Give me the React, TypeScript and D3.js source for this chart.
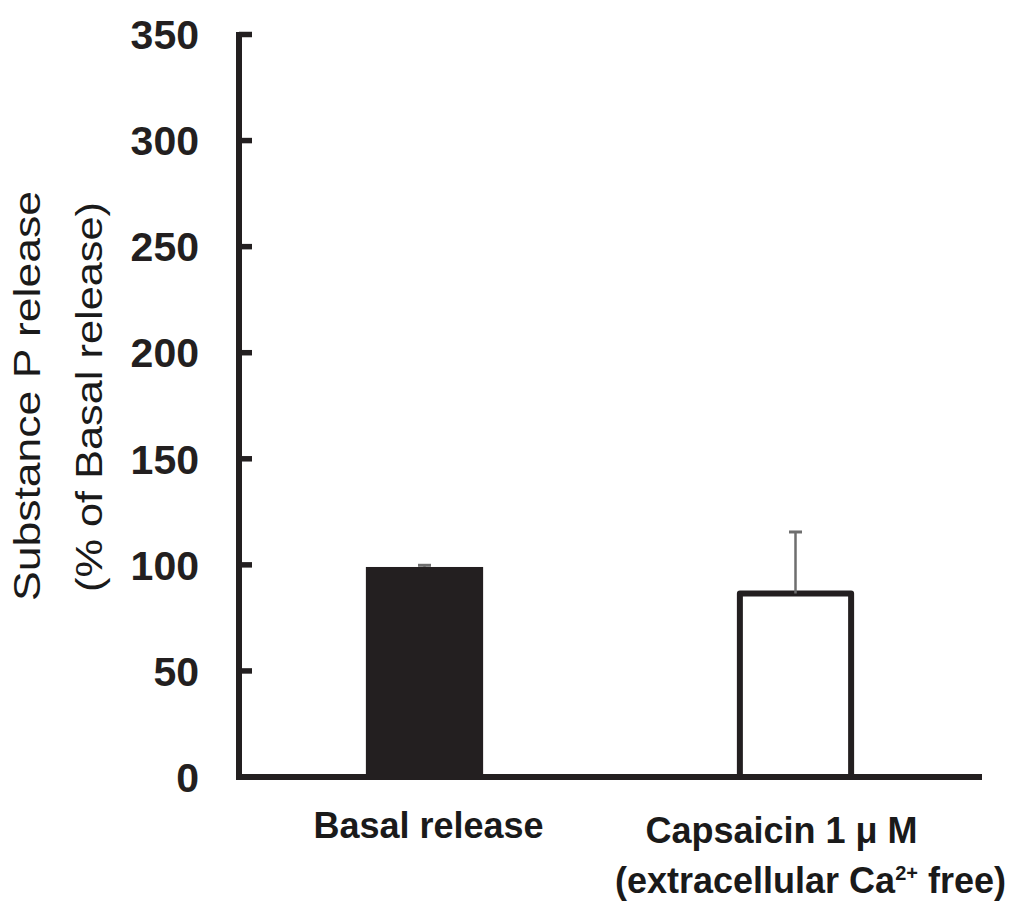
import React from "react";
import * as d3 from "d3";

// Substance P release, % of basal release (mean ± SEM)
const categories = ["Basal release", "Capsaicin"];
const means = [99, 86.5];
const sems = [0.8, 29];
const yTicks = [0, 50, 100, 150, 200, 250, 300, 350];

const W = 1011;
const H = 905;
const INK = "#231f20";
const ERR = "#6e6e6e";

export default function App() {
  const x = d3.scaleBand<string>().domain(categories).range([239, 981]).padding(0);
  const y = d3.scaleLinear().domain([0, 350]).range([777, 34.5]);
  const barW = x.bandwidth() * 0.316;
  const cx = (c: string) => (x(c) ?? 0) + x.bandwidth() / 2;

  return (
    <svg
      width={W}
      height={H}
      style={{ position: "absolute", left: 0, top: 0, background: "#fff" }}
    >
      {/* bars */}
      {categories.map((c, i) => {
        const filled = i === 0;
        const inset = filled ? 0 : 3;
        return (
          <rect
            key={c}
            x={cx(c) - barW / 2 + inset}
            y={y(means[i]) + (filled ? 0 : 0)}
            width={barW - inset * 2}
            height={y(0) - y(means[i])}
            fill={filled ? INK : "#fff"}
            stroke={filled ? "none" : INK}
            strokeWidth={6}
            strokeLinejoin="round"
          />
        );
      })}

      {/* error bars (upper only) */}
      {categories.map((c, i) => {
        const top = y(means[i] + sems[i]);
        const base = y(means[i]);
        return (
          <g key={c + "-err"} stroke={ERR} strokeWidth={2.5}>
            <line x1={cx(c)} x2={cx(c)} y1={base} y2={top} />
            <line x1={cx(c) - 6.5} x2={cx(c) + 6.5} y1={top} y2={top} strokeWidth={3} />
          </g>
        );
      })}

      {/* y axis with inward ticks */}
      <line x1={239} x2={239} y1={y(350) - 2.5} y2={y(0) + 3} stroke={INK} strokeWidth={6} />
      {yTicks.map((t) => (
        <g key={t}>
          {t > 0 && (
            <line x1={239} x2={252} y1={y(t)} y2={y(t)} stroke={INK} strokeWidth={5.5} />
          )}
          <text
            x={199}
            y={y(t)}
            dy="0.36em"
            textAnchor="end"
            fontFamily="Liberation Sans, Arial, sans-serif"
            fontWeight="bold"
            fontSize={41}
            fill={INK}
          >
            {t}
          </text>
        </g>
      ))}

      {/* x axis */}
      <line x1={236} x2={982} y1={y(0)} y2={y(0)} stroke={INK} strokeWidth={6} />

      {/* category labels */}
      <g fontFamily="Liberation Sans, Arial, sans-serif" fontWeight="bold" fontSize={36} fill="#1a1a1a">
        <text x={cx(categories[0]) + 4} y={838} textAnchor="middle">
          Basal release
        </text>
        <text x={cx(categories[1]) - 14} y={843} textAnchor="middle">
          Capsaicin 1 μ M
        </text>
        <text x={cx(categories[1]) + 15} y={893} textAnchor="middle">
          (extracellular Ca
          <tspan fontSize={20} dy={-13}>2+</tspan>
          <tspan dy={13}> free)</tspan>
        </text>
      </g>

      {/* y axis title */}
      <g fontFamily="Liberation Sans, Arial, sans-serif" fontSize={37} fill="#1a1a1a">
        <text
          transform="translate(40,396) rotate(-90)"
          textAnchor="middle"
          textLength={410}
          lengthAdjust="spacingAndGlyphs"
        >
          Substance P release
        </text>
        <text
          transform="translate(102,397) rotate(-90)"
          textAnchor="middle"
          textLength={390}
          lengthAdjust="spacingAndGlyphs"
        >
          (% of Basal release)
        </text>
      </g>
    </svg>
  );
}
